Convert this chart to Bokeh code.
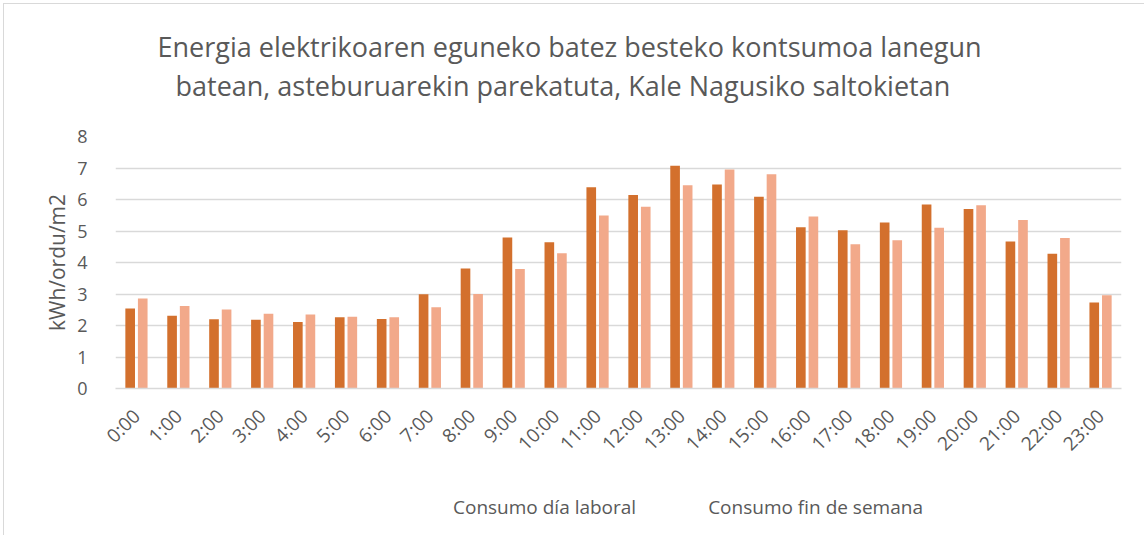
import math
from bokeh.plotting import figure
from bokeh.layouts import column
from bokeh.models import ColumnDataSource, Title, Legend, LegendItem, FactorRange
from bokeh.transform import dodge
from bokeh.embed import file_html
from bokeh.resources import INLINE

hours = ["0:00", "1:00", "2:00", "3:00", "4:00", "5:00", "6:00", "7:00", "8:00", "9:00",
         "10:00", "11:00", "12:00", "13:00", "14:00", "15:00", "16:00", "17:00", "18:00",
         "19:00", "20:00", "21:00", "22:00", "23:00"]
laboral = [2.54, 2.31, 2.20, 2.18, 2.11, 2.26, 2.21, 2.99, 3.81, 4.79, 4.64, 6.39,
           6.14, 7.07, 6.48, 6.09, 5.12, 5.02, 5.27, 5.84, 5.70, 4.67, 4.28, 2.73]
finde = [2.86, 2.62, 2.51, 2.37, 2.35, 2.28, 2.26, 2.58, 3.00, 3.79, 4.29, 5.49,
         5.77, 6.45, 6.95, 6.80, 5.46, 4.58, 4.71, 5.10, 5.82, 5.35, 4.78, 2.96]
y_ticks = [0, 1, 2, 3, 4, 5, 6, 7, 8]

title_lines = ["Energia elektrikoaren eguneko batez besteko kontsumoa lanegun",
               "batean, asteburuarekin parekatuta, Kale Nagusiko saltokietan"]
y_label = "kWh/ordu/m2"
series_names = ["Consumo día laboral", "Consumo fin de semana"]

DARK = "#D3702D"
LIGHT = "#F2A98A"
TXT = "#595959"
GRID = "#D9D9D9"
FONT = "Open Sans"

src = ColumnDataSource(dict(hour=hours, lab=laboral, fin=finde))

p = figure(x_range=FactorRange(*hours, range_padding=0), y_range=(0, 8),
           frame_width=1005, frame_height=251, output_backend="svg", toolbar_location=None,
           min_border_left=111, min_border_right=24, min_border_top=132, min_border_bottom=75,
           styles={"border-top": "1px solid #D9D9D9", "border-left": "1px solid #D9D9D9",
                   "margin-left": "3px", "margin-top": "3px"})

r1 = p.vbar(x=dodge("hour", -0.15, range=p.x_range), top="lab", width=0.23, source=src,
            fill_color=DARK, line_color=None)
r2 = p.vbar(x=dodge("hour", 0.15, range=p.x_range), top="fin", width=0.23, source=src,
            fill_color=LIGHT, line_color=None)

p.outline_line_color = None
p.xgrid.grid_line_color = None
p.ygrid.grid_line_color = GRID
p.ygrid.grid_line_width = 1.3
p.yaxis.ticker = y_ticks

p.yaxis.axis_line_color = None
p.yaxis.major_tick_line_color = None
p.yaxis.minor_tick_line_color = None
p.yaxis.major_label_text_font = FONT
p.yaxis.major_label_text_font_size = "18px"
p.yaxis.major_label_text_color = TXT
p.yaxis.major_label_standoff = 22
p.yaxis.axis_label = y_label
p.yaxis.axis_label_text_font = FONT
p.yaxis.axis_label_text_font_size = "21px"
p.yaxis.axis_label_text_font_style = "normal"
p.yaxis.axis_label_text_color = TXT
p.yaxis.axis_label_standoff = 3

p.xaxis.axis_line_color = GRID
p.xaxis.axis_line_width = 1.3
p.xaxis.major_tick_line_color = None
p.xaxis.minor_tick_line_color = None
p.xaxis.major_label_orientation = math.pi / 4
p.xaxis.major_label_text_font = FONT
p.xaxis.major_label_text_font_size = "19px"
p.xaxis.major_label_text_color = TXT
p.xaxis.major_label_standoff = 18

# spacer between title and plot area, then the two title lines (nearest first)
p.add_layout(Title(text=" ", text_font_size="1px", standoff=30), "above")
p.add_layout(Title(text=title_lines[1], align="left", offset=60, standoff=0,
                   text_font=FONT, text_font_size="27px", text_font_style="normal",
                   text_color=TXT), "above")
p.add_layout(Title(text=title_lines[0], align="left", offset=42, standoff=0,
                   text_font=FONT, text_font_size="27px", text_font_style="normal",
                   text_color=TXT), "above")

# legend strip below the chart
p2 = figure(width=1140, height=73, x_range=(0, 1), y_range=(0, 1),
            x_axis_type=None, y_axis_type=None, min_border=0,
            output_backend="svg", toolbar_location=None,
            styles={"border-left": "1px solid #D9D9D9", "margin-left": "3px"})
p2.outline_line_color = None
p2.grid.visible = False
l1 = p2.vbar(x=[], top=[], width=0.1, fill_color=DARK, line_color=None)
l2 = p2.vbar(x=[], top=[], width=0.1, fill_color=LIGHT, line_color=None)

legend = Legend(items=[LegendItem(label=series_names[0], renderers=[l1]),
                       LegendItem(label=series_names[1], renderers=[l2])],
                orientation="horizontal", location=(317, 20),
                glyph_width=14, glyph_height=14, label_standoff=7, spacing=51,
                padding=4, margin=0, border_line_color=None, background_fill_alpha=0,
                label_text_font=FONT, label_text_font_size="19px", label_text_color=TXT)
p2.add_layout(legend, "center")

layout = column(p, p2, spacing=0)

open("out.html", "w").write(file_html(layout, INLINE))
